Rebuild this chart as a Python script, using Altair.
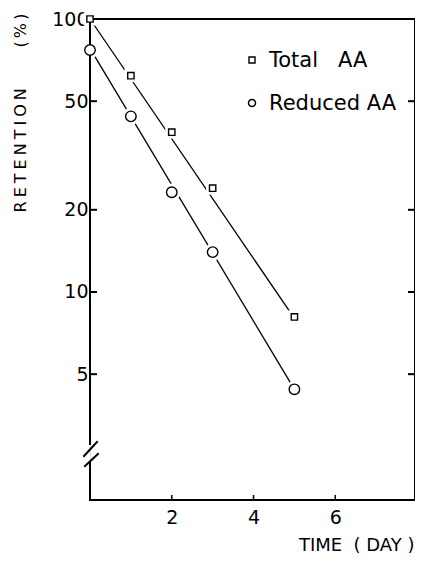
import altair as alt
import pandas as pd

# ---- data ----
days = [0, 1, 2, 3, 5]
total_aa = [100, 62, 38.5, 24, 8.1]
reduced_aa = [77, 44, 23.2, 14, 4.4]
series_names = ["Total\u00a0\u00a0\u00a0AA", "Reduced AA"]
series_shapes = ["square", "circle"]
fit_days = [0, 5]
total_fit = [100, 8.0]
reduced_fit = [78, 4.4]
y_ticks = [100, 50, 20, 10, 5]
x_ticks = [2, 4, 6]

W, H = 325, 481
FONT = "DejaVu Sans"

points = pd.DataFrame({
    "day": days * 2,
    "retention": total_aa + reduced_aa,
    "series": [series_names[0]] * len(days) + [series_names[1]] * len(days),
})
fits = pd.DataFrame({
    "day": fit_days * 2,
    "retention": total_fit + reduced_fit,
    "series": [series_names[0]] * 2 + [series_names[1]] * 2,
})
ytick_df = pd.DataFrame({"retention": y_ticks})
xtick_df = pd.DataFrame({"day": x_ticks})

xscale = alt.Scale(domain=[0, 7.95], nice=False, zero=False)
yscale = alt.Scale(type="log", domain=[1.73, 100], nice=False)

ytitle = ("\u2005".join("RETENTION") + "\u00a0" * 8 + "(\u2009%\u2009)")

x_enc = alt.X("day:Q", scale=xscale, axis=alt.Axis(
    values=x_ticks, ticks=False, domain=False, grid=False,
    labelFontSize=19, labelPadding=8, labelColor="black", labelFont=FONT,
    title="TIME\u00a0\u00a0(\u00a0DAY\u00a0)", titleFontSize=18, titleFontWeight="normal",
    titleAlign="right", titleX=324, titleY=50, titleBaseline="alphabetic",
    titleColor="black", titleFont=FONT))
y_enc = alt.Y("retention:Q", scale=yscale, axis=alt.Axis(
    values=y_ticks, ticks=False, domain=False, grid=False,
    labelFontSize=19, labelPadding=2, labelColor="black", labelFont=FONT,
    title=ytitle, titleFontSize=16, titleFontWeight="normal", titleAngle=270,
    titleAlign="right", titleBaseline="middle", titleX=-70, titleY=-6,
    titleColor="black", titleFont=FONT))


def seg(x1, y1, x2, y2, width=2, color="black"):
    return alt.Chart(alt.Data(values=[{"k": 0}])).mark_rule(
        color=color, strokeWidth=width, strokeCap="square"
    ).encode(x=alt.value(x1), y=alt.value(y1), x2=alt.value(x2), y2=alt.value(y2))


lines = alt.Chart(fits).mark_line(color="black", strokeWidth=1.3).encode(
    x=x_enc, y=y_enc, detail="series:N")

halo_sq = alt.Chart(points).transform_filter(
    alt.datum.series == series_names[0]
).mark_square(color="white", size=170, opacity=1).encode(x=x_enc, y=y_enc)
halo_ci = alt.Chart(points).transform_filter(
    alt.datum.series == series_names[1]
).mark_circle(color="white", size=300, opacity=1).encode(x=x_enc, y=y_enc)

frame = [
    seg(0, 0, W, 0),
    seg(W, 0, W, H),
    seg(0, H, W, H),
    seg(0, 0, 0, 425),
    seg(0, 443, 0, H),
    seg(-6, 437, 7, 423),
    seg(-5, 447, 8, 435),
]

left_ticks = alt.Chart(ytick_df).mark_rule(color="black", strokeWidth=2).encode(
    y=y_enc, x=alt.value(0), x2=alt.value(7))
right_ticks = alt.Chart(ytick_df).mark_rule(color="black", strokeWidth=2).encode(
    y=y_enc, x=alt.value(W - 7), x2=alt.value(W))
bottom_ticks = alt.Chart(xtick_df).mark_rule(color="black", strokeWidth=1.5).encode(
    x=x_enc, y=alt.value(H - 5), y2=alt.value(H))

shape_scale = alt.Scale(domain=series_names, range=series_shapes)
size_scale = alt.Scale(domain=series_names, range=[40, 110])

markers = alt.Chart(points).mark_point(
    filled=True, fill="white", stroke="black", strokeWidth=1.4, opacity=1
).encode(
    x=x_enc, y=y_enc,
    shape=alt.Shape("series:N", scale=shape_scale, legend=None),
    size=alt.Size("series:N", scale=size_scale, legend=None),
)

# hand-placed key (legend) inside the plot
key_layers = []
for i, (name, shp, sz) in enumerate(zip(series_names, series_shapes, [36, 50])):
    yy = 41 + i * 43
    key_layers.append(
        alt.Chart(alt.Data(values=[{"label": name}])).mark_point(
            shape=shp, size=sz, filled=True, fill="white", stroke="black",
            strokeWidth=1.4, opacity=1
        ).encode(x=alt.value(162), y=alt.value(yy))
    )
    key_layers.append(
        alt.Chart(alt.Data(values=[{"label": name}])).mark_text(
            align="left", baseline="middle", fontSize=21, font=FONT, color="black"
        ).encode(x=alt.value(179), y=alt.value(yy + 1), text="label:N")
    )

chart = alt.layer(
    lines, halo_sq, halo_ci, *frame, left_ticks, right_ticks, bottom_ticks, markers,
    *key_layers
).properties(
    width=W, height=H,
    autosize=alt.AutoSizeParams(type="none"),
    padding={"left": 82, "top": 11, "right": 0, "bottom": 53},
).configure_view(stroke=None).configure(background="white")

chart.save("out.html", embed_options={"renderer": "svg", "actions": False})
